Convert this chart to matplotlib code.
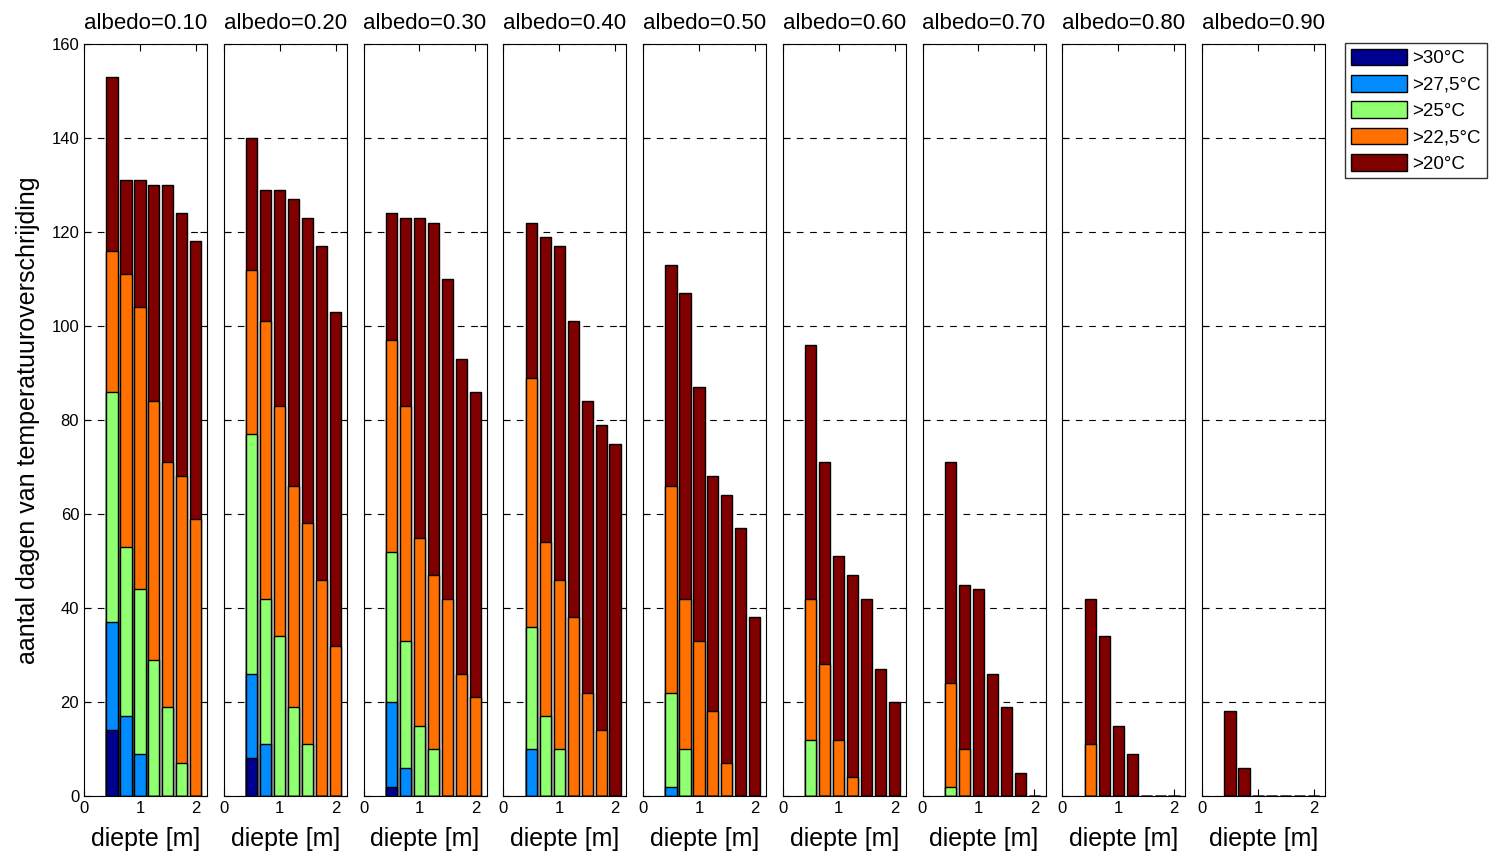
import numpy as np
import matplotlib
matplotlib.use('Agg')
import matplotlib.pyplot as plt
from matplotlib.patches import Patch

# depth of the bars [m]
depths = [0.5, 0.75, 1.0, 1.25, 1.5, 1.75, 2.0]
albedos = ['0.10', '0.20', '0.30', '0.40', '0.50', '0.60', '0.70', '0.80', '0.90']

# number of days above each threshold, one list per albedo
above_20 = [
    [153, 131, 131, 130, 130, 124, 118],
    [140, 129, 129, 127, 123, 117, 103],
    [124, 123, 123, 122, 110, 93, 86],
    [122, 119, 117, 101, 84, 79, 75],
    [113, 107, 87, 68, 64, 57, 38],
    [96, 71, 51, 47, 42, 27, 20],
    [71, 45, 44, 26, 19, 5, 0],
    [42, 34, 15, 9, 0, 0, 0],
    [18, 6, 0, 0, 0, 0, 0],
]
above_225 = [
    [116, 111, 104, 84, 71, 68, 59],
    [112, 101, 83, 66, 58, 46, 32],
    [97, 83, 55, 47, 42, 26, 21],
    [89, 54, 46, 38, 22, 14, 0],
    [66, 42, 33, 18, 7, 0, 0],
    [42, 28, 12, 4, 0, 0, 0],
    [24, 10, 0, 0, 0, 0, 0],
    [11, 0, 0, 0, 0, 0, 0],
    [0, 0, 0, 0, 0, 0, 0],
]
above_25 = [
    [86, 53, 44, 29, 19, 7, 0],
    [77, 42, 34, 19, 11, 0, 0],
    [52, 33, 15, 10, 0, 0, 0],
    [36, 17, 10, 0, 0, 0, 0],
    [22, 10, 0, 0, 0, 0, 0],
    [12, 0, 0, 0, 0, 0, 0],
    [2, 0, 0, 0, 0, 0, 0],
    [0, 0, 0, 0, 0, 0, 0],
    [0, 0, 0, 0, 0, 0, 0],
]
above_275 = [
    [37, 17, 9, 0, 0, 0, 0],
    [26, 11, 0, 0, 0, 0, 0],
    [20, 6, 0, 0, 0, 0, 0],
    [10, 0, 0, 0, 0, 0, 0],
    [2, 0, 0, 0, 0, 0, 0],
    [0, 0, 0, 0, 0, 0, 0],
    [0, 0, 0, 0, 0, 0, 0],
    [0, 0, 0, 0, 0, 0, 0],
    [0, 0, 0, 0, 0, 0, 0],
]
above_30 = [
    [14, 0, 0, 0, 0, 0, 0],
    [8, 0, 0, 0, 0, 0, 0],
    [2, 0, 0, 0, 0, 0, 0],
    [0, 0, 0, 0, 0, 0, 0],
    [0, 0, 0, 0, 0, 0, 0],
    [0, 0, 0, 0, 0, 0, 0],
    [0, 0, 0, 0, 0, 0, 0],
    [0, 0, 0, 0, 0, 0, 0],
    [0, 0, 0, 0, 0, 0, 0],
]

labels = ['>30°C', '>27,5°C', '>25°C', '>22,5°C', '>20°C']
colors = ['#00008F', '#008CFF', '#90FF70', '#FF7000', '#800000']

plt.rcParams['font.family'] = ['Liberation Sans', 'DejaVu Sans']

fig = plt.figure(figsize=(14.95, 8.59), dpi=100)
W, H = 1495.0, 859.0

# series drawn back to front: tallest first
series = [above_20, above_225, above_25, above_275, above_30]
series_colors = colors[::-1]

for i, alb in enumerate(albedos):
    left = 84 + i * 139.75
    ax = fig.add_axes([left / W, 1 - 796 / H, 123 / W, 752 / H])
    for data, c in zip(series, series_colors):
        ax.bar(depths, data[i], width=0.2, color=c, edgecolor='black',
               linewidth=1.0, zorder=3)
    ax.set_xlim(0, 2.2)
    ax.set_ylim(0, 160)
    ax.set_xticks([0, 1, 2])
    ax.set_yticks(np.arange(0, 161, 20))
    ax.grid(axis='y', color='black', linestyle=(0, (6, 6)), linewidth=0.8, zorder=0)
    ax.tick_params(direction='in', top=True, right=True, labelsize=12, length=5)
    if i > 0:
        ax.set_yticklabels([])
    else:
        ax.set_ylabel('aantal dagen van temperatuuroverschrijding', fontsize=18, labelpad=8)
    ax.set_xlabel('diepte [m]', fontsize=18, labelpad=8)
    ax.set_title('albedo=' + alb, fontsize=16, pad=11)

handles = [Patch(facecolor=c, edgecolor='black', label=l) for c, l in zip(colors, labels)]
fig.legend(handles=handles, loc='upper left', bbox_to_anchor=(1345 / W, 1 - 43 / H),
           fontsize=13.5, frameon=True, fancybox=False, edgecolor='black',
           handlelength=3.0, handleheight=1.0, labelspacing=0.4, handletextpad=0.3,
           borderpad=0.3, borderaxespad=0)

fig.savefig('out.png', dpi=100)
